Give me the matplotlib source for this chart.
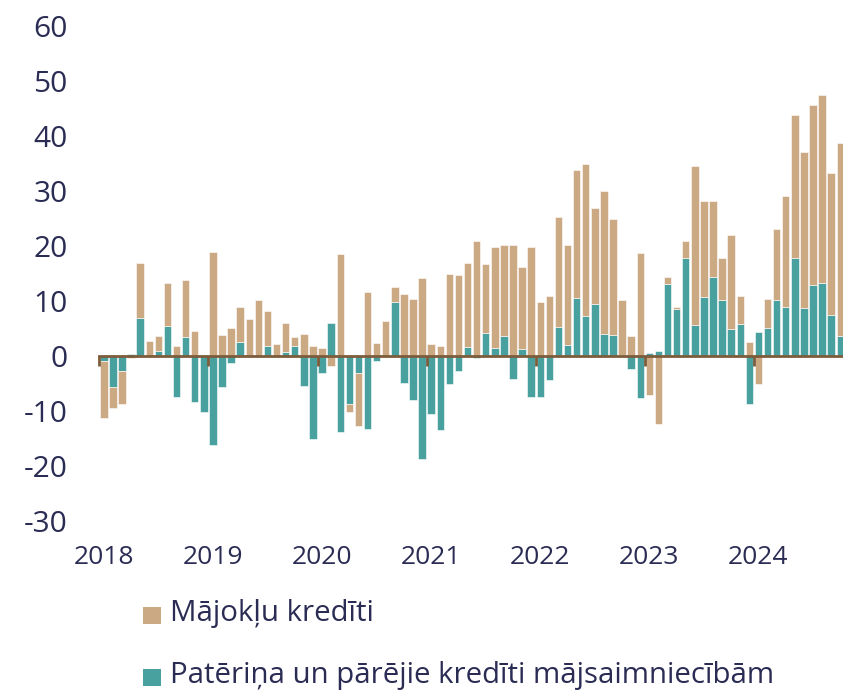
import matplotlib.pyplot as plt
from matplotlib.patches import Rectangle
from matplotlib.transforms import blended_transform_factory
import numpy as np

plt.rcParams["font.family"] = ["Open Sans", "DejaVu Sans"]
plt.rcParams["axes.unicode_minus"] = False

# monthly values, Jan 2018 .. Oct 2024
consumer = [
    -0.9, -5.6, -2.7, 0.4, 7.0, 0.0, 1.0, 5.45, -7.4, 3.5, -8.3, -10.2,
    -16.2, -5.6, -1.2, 2.6, 0.0, 0.0, 1.9, 0.0, 0.8, 1.9, -5.45, -15.0,
    -3.0, 6.0, -13.8, -8.7, -3.0, -13.2, -0.9, 0.0, 9.9, -4.85, -8.0, -18.7,
    -10.6, -13.5, -5.15, -2.7, 1.6, -0.3, 4.2, 1.5, 3.6, -4.2, 1.3, -7.4,
    -7.4, -4.4, 5.3, 2.0, 10.6, 7.3, 9.5, 4.05, 3.8, 0.2, -2.4, -7.7,
    0.55, 0.85, 13.15, 8.6, 17.9, 5.6, 10.8, 14.4, 10.1, 4.97, 5.9, -8.8,
    4.4, 5.15, 10.2, 8.9, 17.9, 8.7, 12.9, 13.3, 7.5, 3.6,
]
mortgage = [
    -10.4, -3.8, -6.0, -0.4, 10.0, 2.7, 2.6, 7.9, 1.9, 10.4, 4.6, 0.2,
    18.85, 3.9, 5.1, 6.4, 6.7, 10.1, 6.3, 2.2, 5.2, 1.55, 4.0, 1.9,
    1.5, -1.8, 18.5, -1.5, -9.7, 11.6, 2.4, 6.3, 2.7, 11.3, 10.3, 14.2,
    2.2, 1.8, 14.9, 14.7, 15.4, 20.9, 12.6, 18.3, 16.5, 20.1, 14.9, 19.8,
    9.9, 11.0, 19.9, 18.2, 23.3, 27.7, 17.5, 26.0, 21.2, 9.9, 3.6, 18.8,
    -7.0, -12.4, 1.25, 0.4, 3.0, 28.9, 17.3, 13.7, 7.8, 17.0, 5.1, 2.5,
    -5.1, 5.15, 12.8, 20.2, 25.9, 28.4, 32.7, 34.2, 25.7, 35.1,
]
years = ["2018", "2019", "2020", "2021", "2022", "2023", "2024"]
labels = ["Mājokļu kredīti", "Patēriņa un pārējie kredīti mājsaimniecībām"]

tan = "#CBA983"
teal = "#48A09F"
txt = "#2B2C54"
brown = "#7D5C3C"

cons = np.array(consumer)
mort = np.array(mortgage)
x = np.arange(len(cons))
# excel-style stacking: same-sign parts pile up, opposite sign starts at 0
mort_bottom = np.where(mort >= 0, np.maximum(cons, 0), np.minimum(cons, 0))

fig = plt.figure(figsize=(8.43, 6.91), dpi=100)
ax = fig.add_axes([99.3 / 843, 170 / 691, (843 - 99.3) / 843, 495 / 691])

ax.bar(x, cons, width=0.82, color=teal, edgecolor="white", linewidth=0.4)
ax.bar(x, mort, bottom=mort_bottom, width=0.82, color=tan,
       edgecolor="white", linewidth=0.4)

ax.set_xlim(-0.5, 81.3)
ax.set_ylim(-30, 60)
ax.set_yticks(range(-30, 61, 10))
ax.tick_params(axis="y", length=0, pad=23, labelsize=21.5, labelcolor=txt)

for s in ["left", "right", "top"]:
    ax.spines[s].set_visible(False)
ax.spines["bottom"].set_position(("data", 0))
ax.spines["bottom"].set_color(brown)
ax.spines["bottom"].set_linewidth(2)
ax.spines["bottom"].set_zorder(5)
ax.set_xticks([-0.5 + 12 * k for k in range(len(years))])
ax.set_xticklabels([])
ax.tick_params(axis="x", direction="out", length=7, width=2, color=brown)

tr = blended_transform_factory(ax.transData, fig.transFigure)
for k, yr in enumerate(years):
    ax.text(12 * k, 1 - 558 / 691, yr, transform=tr, ha="center",
            va="center", fontsize=19, color=txt)

# legend
for i, (lab, col) in enumerate(zip(labels, [tan, teal])):
    yc = 1 - (615 + 62 * i) / 691
    fig.add_artist(Rectangle((143 / 843, yc - 8.5 / 691), 17.5 / 843, 17 / 691,
                             transform=fig.transFigure, color=col, lw=0))
    fig.text(170 / 843, yc + 1 / 691, lab, ha="left", va="center",
             fontsize=21.2, color=txt)

fig.savefig("out.png", dpi=100)
